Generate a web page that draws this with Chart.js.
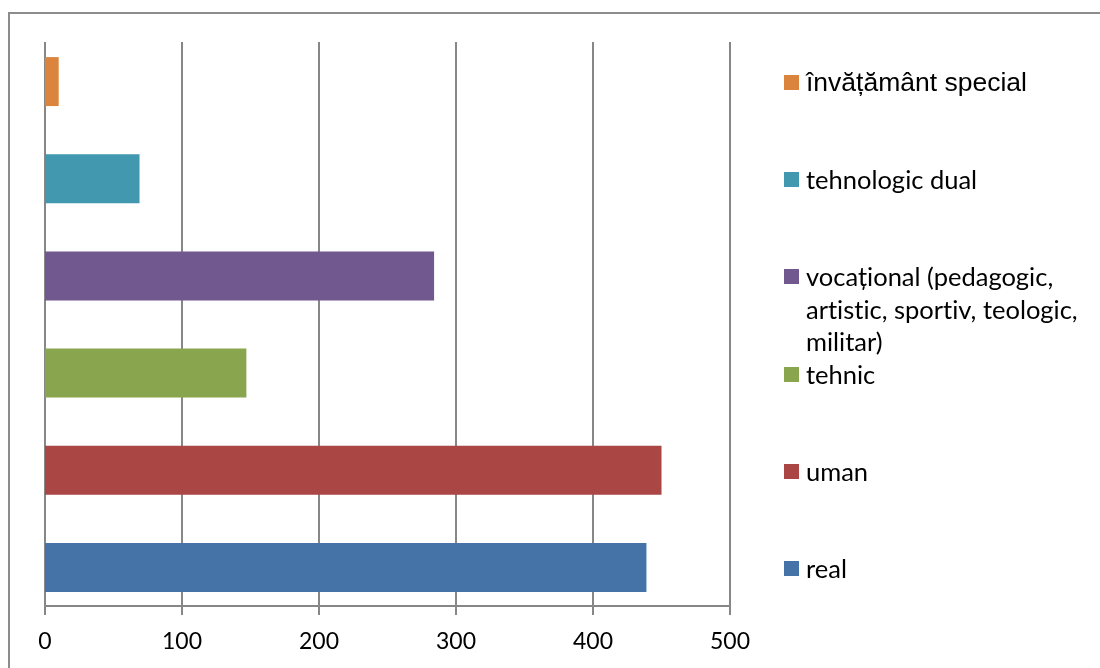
<!DOCTYPE html>
<html>
<head>
<meta charset="utf-8">
<script src="https://cdn.jsdelivr.net/npm/chart.js@4"></script>
<style>
  html, body { margin: 0; padding: 0; background: #fff; }
  #wrap { position: relative; width: 1100px; height: 668px; overflow: hidden; }
  #frame { position: absolute; left: 8px; top: 12px; width: 1200px; height: 800px;
           border-top: 2px solid #8c8c8c; border-left: 2px solid #8c8c8c; }
  #chart { position: absolute; left: 0; top: 0; }
  .lg { position: absolute; left: 784px; width: 300px; font-family: Lato, sans-serif;
        font-size: 25.5px; line-height: 32.5px; color: #000; padding-left: 22px; box-sizing: border-box;
        font-variant-ligatures: none; }
  .lg i { position: absolute; left: 0; width: 15px; height: 15px; }
</style>
</head>
<body>
<div id="wrap">
  <div id="frame"></div>
  <canvas id="chart" width="1100" height="668"></canvas>
</div>
<script>
// data, bottom to top as in the original
const categories = ["real", "uman", "tehnic", "vocațional (pedagogic, artistic, sportiv, teologic, militar)", "tehnologic dual", "învățământ special"];
const values = [439, 450, 147, 284, 69, 10];
const colors = ["#4572A7", "#AA4643", "#89A54E", "#71588F", "#4198AF", "#DB843D"];
const xTicks = [0, 100, 200, 300, 400, 500];

const GRID = "#878787";

// draws the value axis the way the original does (grid a bit shorter than the bands)
const axisPlugin = {
  id: "axisPlugin",
  beforeDatasetsDraw(chart) {
    const { ctx, chartArea: a, scales: { x } } = chart;
    const top = a.top + 9, base = a.bottom - 10;
    ctx.save();
    ctx.strokeStyle = GRID;
    ctx.lineWidth = 2;
    xTicks.forEach(v => {
      const px = Math.round(x.getPixelForValue(v));
      ctx.beginPath(); ctx.moveTo(px, top); ctx.lineTo(px, base + 9); ctx.stroke();
    });
    ctx.beginPath();
    ctx.moveTo(x.getPixelForValue(0), base);
    ctx.lineTo(x.getPixelForValue(500), base);
    ctx.stroke();
    ctx.fillStyle = "#000";
    ctx.font = "23px Lato";
    ctx.textAlign = "center";
    ctx.textBaseline = "middle";
    xTicks.forEach(v => ctx.fillText(String(v), x.getPixelForValue(v), base + 36));
    ctx.restore();
  }
};

const legendPlugin = {
  id: "legendPlugin",
  afterRender(chart) {
    if (chart._lgDone) return;
    chart._lgDone = true;
    const y = chart.scales.y;
    const wrap = document.getElementById("wrap");
    categories.forEach((c, i) => {
      const d = document.createElement("div");
      d.className = "lg";
      if (i === 5) { d.style.fontFamily = "'Liberation Sans', Arial, sans-serif"; d.style.fontSize = "26.5px"; }
      const cy = y.getPixelForValue(i);
      d.style.top = (cy - 15.5) + "px";
      d.innerHTML = '<i style="background:' + colors[i] + ';top:9px"></i>';
      d.appendChild(document.createTextNode(c));
      wrap.appendChild(d);
    });
  }
};

new Chart(document.getElementById("chart"), {
  type: "bar",
  data: {
    labels: categories,
    datasets: [{ data: values, backgroundColor: colors, barPercentage: 0.504, categoryPercentage: 1 }]
  },
  options: {
    indexAxis: "y",
    responsive: false,
    animation: false,
    layout: { padding: { left: 45, top: 33, right: 370, bottom: 52 } },
    plugins: { legend: { display: false }, tooltip: { enabled: false } },
    scales: {
      x: { display: false, min: 0, max: 500, ticks: { stepSize: 100 } },
      y: { display: false, reverse: true }
    }
  },
  plugins: [axisPlugin, legendPlugin]
});
</script>
</body>
</html>
